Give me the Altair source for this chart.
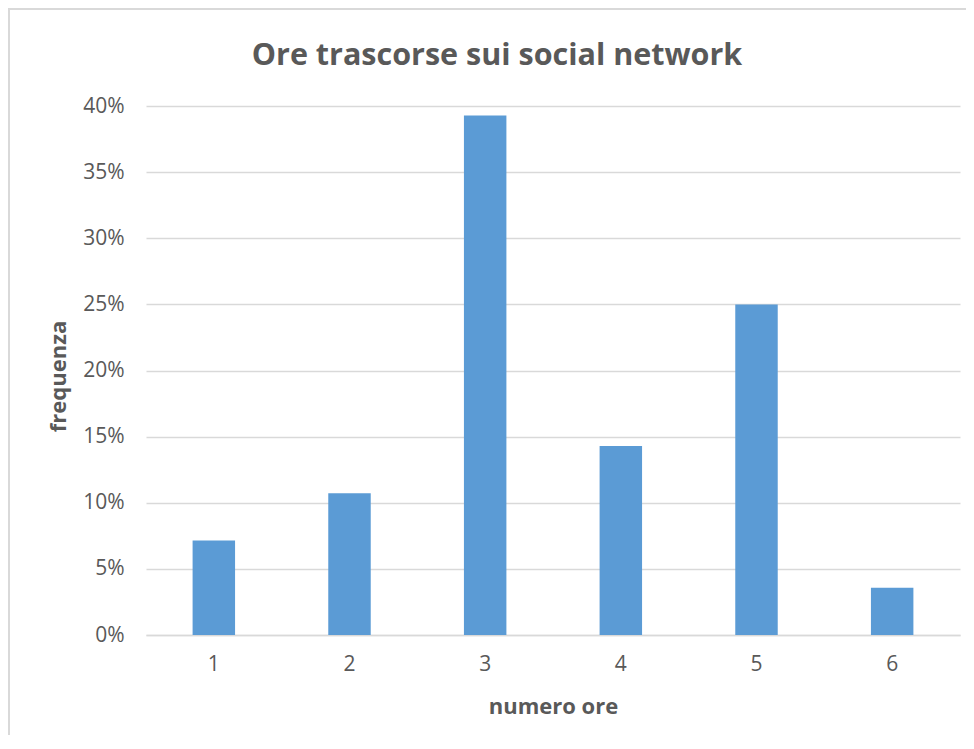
import altair as alt
import pandas as pd

ore = ["1", "2", "3", "4", "5", "6"]
frequenza = [0.0714, 0.1071, 0.3929, 0.1429, 0.25, 0.0357]
titolo = "Ore trascorse sui social network"

df = pd.DataFrame({"ore": ore, "freq": frequenza})

W, H = 814, 529
PL, PT, PR, PB = 138, 98, 6, 100
FONT = "Open Sans"
GREY = "#595959"

bars = alt.Chart(df).mark_bar(color="#5b9bd5").encode(
    x=alt.X("ore:N", sort=ore,
            scale=alt.Scale(paddingInner=0.687, paddingOuter=0.3435),
            axis=alt.Axis(title="numero ore", labelAngle=0, ticks=False,
                          domainColor="#d9d9d9", domainWidth=1.5,
                          labelPadding=18, titlePadding=22,
                          labelFontSize=21, titleFontSize=22,
                          labelColor=GREY, titleColor=GREY,
                          labelFont=FONT, titleFont=FONT, titleFontWeight="bold")),
    y=alt.Y("freq:Q", scale=alt.Scale(domain=[0, 0.4], nice=False),
            axis=alt.Axis(title="frequenza", format=".0%",
                          values=[0, 0.05, 0.1, 0.15, 0.2, 0.25, 0.3, 0.35, 0.4],
                          domain=False, ticks=False, labelPadding=22, titlePadding=12,
                          titleY=270,
                          gridColor="#d9d9d9", gridWidth=1.5,
                          labelFontSize=21, titleFontSize=22,
                          labelColor=GREY, titleColor=GREY,
                          labelFont=FONT, titleFont=FONT, titleFontWeight="bold")),
)

title = alt.Chart(pd.DataFrame({"t": [titolo]})).mark_text(
    font=FONT, fontSize=30.5, fontWeight="bold", color=GREY,
    align="center", baseline="alphabetic",
).encode(x=alt.value(351), y=alt.value(-41), text="t:N")

border = alt.Chart(df).mark_rect(fill=None, stroke="#d9d9d9", strokeWidth=1.5).encode(
    x=alt.value(-PL + 1), x2=alt.value(W + PR + 5),
    y=alt.value(-PT + 1), y2=alt.value(H + PB + 5),
)

chart = alt.layer(border, bars, title).properties(
    width=W, height=H,
    autosize=alt.AutoSizeParams(type="none"),
    padding={"left": PL, "top": PT, "right": PR, "bottom": PB},
).configure_view(stroke=None)

chart.save("out.html", embed_options={"renderer": "svg", "actions": False})
